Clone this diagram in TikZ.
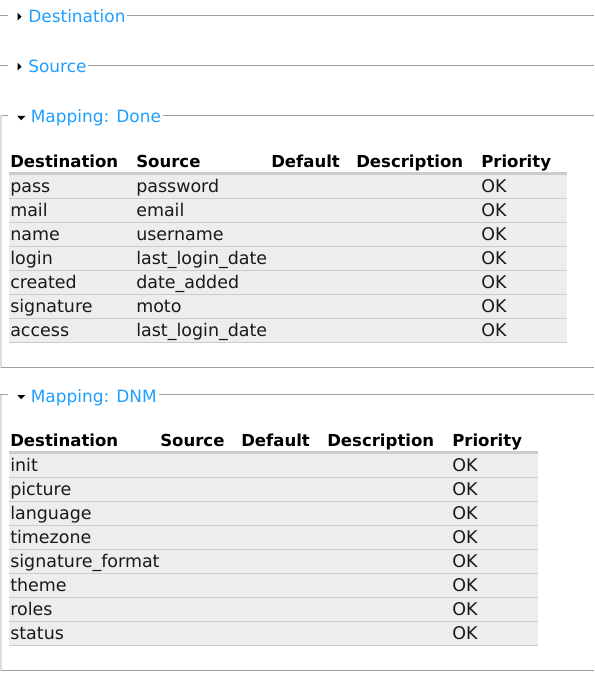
\documentclass[tikz,border=0pt]{standalone}
\usepackage{fontspec}
\setmainfont{DejaVu Sans}
\definecolor{legendblue}{HTML}{1E9EFF}
\definecolor{rowgray}{HTML}{EDEDED}
\definecolor{rulegray}{HTML}{CCCCCC}
\definecolor{framegray}{HTML}{A0A0A0}
\definecolor{sidegray}{HTML}{DDDDDD}

\begin{document}
\begin{tikzpicture}[x=0.75pt,y=-0.75pt,
		legend/.style={anchor=base west,inner xsep=1.2pt,inner ysep=0pt,text=legendblue,font=\fontsize{12.7}{15}\selectfont},
		head/.style={anchor=base west,inner sep=0pt,font=\fontsize{12.4}{15}\selectfont\bfseries},
		cell/.style={anchor=base west,inner sep=0pt,text=black!90,font=\fontsize{13.1}{15}\selectfont},
		frame/.style={draw=framegray,line width=0.8pt},
		side/.style={draw=sidegray,line width=0.8pt},
		hrule/.style={draw=rulegray,line width=2.25pt},
		rowrule/.style={draw=rulegray,line width=0.75pt}]
			\useasboundingbox (0,0) rectangle (594,688);
			%\draw [help lines] (0,0) grid (594,688);

			% collapsed fieldsets
			\coordinate (destR) at (594,15.5);
			\coordinate (srcR) at (594,65.5);
			\draw[frame] (0,15.5) -- (8,15.5);
			\fill (17.5,12.7) -- (21.5,16.7) -- (17.5,20.7) -- cycle;
			\node[legend] (dest) at (26.5,22.5) {Destination};
			\draw[frame] (dest.east |- destR) -- (destR);

			\draw[frame] (0,65.5) -- (8,65.5);
			\fill (17.5,62.7) -- (21.5,66.7) -- (17.5,70.7) -- cycle;
			\node[legend] (src) at (26.5,72.5) {Source};
			\draw[frame] (src.east |- srcR) -- (srcR);

			% Mapping: Done
			\coordinate (doneR) at (594,115.5);
			\coordinate (doneB) at (594,367.5);
			\draw[frame] (0,115.5) -- (8,115.5);
			\fill (17.3,116) -- (25.3,116) -- (21.3,120.2) -- cycle;
			\node[legend] (done) at (29,122.5) {Mapping: Done};
			\draw[frame] (done.east |- doneR) -- (doneR);
			\draw[side] (1,115.5) -- (1,367.5);
			\draw[frame] (1,367.5) -- (doneB);

			\fill[rowgray] (9,175) rectangle (567,342.5);
			\draw[hrule] (9,173.5) -- (567,173.5);
			\foreach \i in {0,...,6}
				\draw[rowrule] (9,{198.5+24*\i}) -- (567,{198.5+24*\i});

			\node[head] (h1dest) at (10,167.5) {Destination};
			\node[head] (h1src) at (136,167.5) {Source};
			\node[head] (h1def) at (271,167.5) {Default};
			\node[head] (h1desc) at (356,167.5) {Description};
			\node[head] (h1prio) at (481,167.5) {Priority};

			\foreach \d/\s [count=\i from 0] in {pass/password, mail/email, name/username,
					login/last\_login\_date, created/date\_added, signature/moto, access/last\_login\_date}{
				\node[cell] (t1d\i) at (10,{192.5+24*\i}) {\d};
				\node[cell] (t1s\i) at (136,{192.5+24*\i}) {\s};
				\node[cell] (t1p\i) at (481,{192.5+24*\i}) {OK};
			}

			% Mapping: DNM
			\coordinate (dnmR) at (594,394.5);
			\coordinate (dnmB) at (594,670.5);
			\draw[frame] (0,394.5) -- (8,394.5);
			\fill (17.3,395) -- (25.3,395) -- (21.3,399.2) -- cycle;
			\node[legend] (dnm) at (29,402.5) {Mapping: DNM};
			\draw[frame] (dnm.east |- dnmR) -- (dnmR);
			\draw[side] (1,394.5) -- (1,670.5);
			\draw[frame] (1,670.5) -- (dnmB);

			\fill[rowgray] (9,454) rectangle (538,645.5);
			\draw[hrule] (9,452.5) -- (538,452.5);
			\foreach \i in {0,...,7}
				\draw[rowrule] (9,{477.5+24*\i}) -- (538,{477.5+24*\i});

			\node[head] (h2dest) at (10,446.5) {Destination};
			\node[head] (h2src) at (160,446.5) {Source};
			\node[head] (h2def) at (241,446.5) {Default};
			\node[head] (h2desc) at (327,446.5) {Description};
			\node[head] (h2prio) at (452,446.5) {Priority};

			\foreach \d [count=\i from 0] in {init, picture, language, timezone,
					signature\_format, theme, roles, status}{
				\node[cell] (t2d\i) at (10,{471.5+24*\i}) {\d};
				\node[cell] (t2p\i) at (452,{471.5+24*\i}) {OK};
			}
		\end{tikzpicture}
\end{document}
